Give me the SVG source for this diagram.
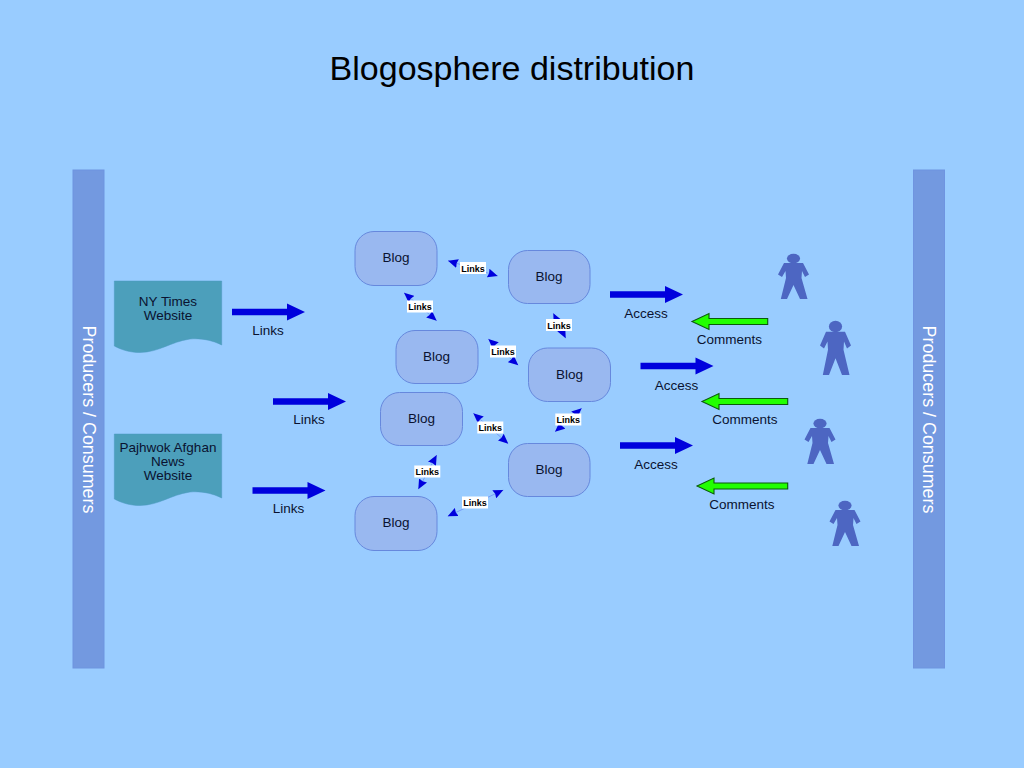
<svg xmlns="http://www.w3.org/2000/svg" xmlns:xlink="http://www.w3.org/1999/xlink" width="1024" height="768" viewBox="0 0 1024 768">
<style>
text{font-family:"Liberation Sans",Arial,sans-serif;text-anchor:middle;fill:#0a1230}
.t{font-size:13.5px}
.title{font-size:34px;fill:#000}
.side{font-size:17.900px;fill:#fff}
.bar{fill:#7399e0;stroke:#6f94e0;stroke-width:1}
.blog rect{fill:#99b8f0;stroke:#6688dd;stroke-width:1}
.doc path{fill:#4c9fbb;stroke:#4a98c0;stroke-width:.5}
.person{fill:#4d66c2}
.big{fill:#0000dd}
.green{fill:#22ff00;stroke:#0b5a0b;stroke-width:1.1}
.ln{stroke:#0000dd;stroke-width:.6;stroke-opacity:.4;fill:none;marker-start:url(#h);marker-end:url(#h)}
.lb rect{fill:#fff}
.lb text{font-size:9px;font-weight:bold;fill:#000}
</style>
<defs>
<marker id="h" viewBox="0 0 10 9" refX="10" refY="4.500" markerUnits="userSpaceOnUse" markerWidth="10" markerHeight="9" orient="auto-start-reverse"><path d="M0,0L10,4.500L0,9L1,4.500Z" fill="#0000dd"/></marker>
<path id="arrow" d="M0,-3.200H55V-8.500L73,0L55,8.500V3.200H0Z"/>
<g id="man"><ellipse cx="15.500" cy="4.600" rx="6.600" ry="4.800"/><path d="M6,9H25L31,20.500L27,23L24,17L23.500,24L29.500,45H22L15.500,31L9,45H2.800L8,24L7.500,17L4,23L0,20.500Z"/></g>
</defs>
<rect width="1024" height="768" fill="#99ccff"/>
<text class="title" x="512" y="79.500">Blogosphere distribution</text>
<g id="bar-left"><rect class="bar" x="73" y="170" width="31" height="498"/><text class="side" transform="translate(83,419.500) rotate(90)">Producers / Consumers</text></g>
<g id="bar-right"><rect class="bar" x="913.500" y="170" width="31" height="498"/><text class="side" transform="translate(923,419.500) rotate(90)">Producers / Consumers</text></g>
<g id="doc-nyt" class="doc"><path d="M114.300,281H221.700V345C212,340 200,338 190,339C170,342 160,352 140,352.500C130,352.500 122,350 114.300,346Z"/><text class="t" x="168" y="306">NY Times</text><text class="t" x="168" y="320">Website</text></g>
<g id="doc-pajhwok" class="doc"><path d="M114.300,434H221.700V498C212,493 200,491 190,492C170,495 160,505 140,505.500C130,505.500 122,503 114.300,499Z"/><text class="t" x="168" y="452">Pajhwok Afghan</text><text class="t" x="168" y="466">News</text><text class="t" x="168" y="480">Website</text></g>
<g id="blog1" class="blog"><rect x="355" y="231.500" width="82" height="54" rx="19"/><text class="t" x="396" y="262">Blog</text></g>
<g id="blog2" class="blog"><rect x="508.500" y="250.500" width="81.500" height="53" rx="19"/><text class="t" x="549" y="280.500">Blog</text></g>
<g id="blog3" class="blog"><rect x="396" y="330.500" width="82" height="53" rx="19"/><text class="t" x="436.500" y="360.500">Blog</text></g>
<g id="blog4" class="blog"><rect x="528.500" y="348" width="82" height="53.500" rx="19"/><text class="t" x="569.500" y="378.500">Blog</text></g>
<g id="blog5" class="blog"><rect x="380.500" y="392.500" width="82" height="53" rx="19"/><text class="t" x="421.500" y="423">Blog</text></g>
<g id="blog6" class="blog"><rect x="508.500" y="443.500" width="81.500" height="53" rx="19"/><text class="t" x="549" y="474">Blog</text></g>
<g id="blog7" class="blog"><rect x="355" y="496.500" width="82" height="54" rx="19"/><text class="t" x="396" y="527">Blog</text></g>
<g id="connectors">
<use href="#arrow" class="big" x="232" y="312"/>
<use href="#arrow" class="big" x="273" y="401.500"/>
<use href="#arrow" class="big" x="252.500" y="490.500"/>
<use href="#arrow" class="big" x="610" y="294.500"/>
<use href="#arrow" class="big" x="640.500" y="366"/>
<use href="#arrow" class="big" x="620" y="445.500"/>
<path class="green" d="M767.700,318.500H709V313.500L692,321.500L709,329.500V324.500H767.700Z"/>
<path class="green" d="M787.700,398.500H719V393.500L702,401.500L719,409.500V404.500H787.700Z"/>
<path class="green" d="M787.700,483H714V478L697,486L714,494V489H787.700Z"/>
<line class="ln" x1="448" y1="260.700" x2="497.700" y2="276"/>
<line class="ln" x1="404" y1="292.700" x2="436.700" y2="320.700"/>
<line class="ln" x1="553.300" y1="313.300" x2="565.700" y2="338.300"/>
<line class="ln" x1="488.300" y1="339" x2="518.300" y2="365.300"/>
<line class="ln" x1="581.700" y1="408.300" x2="555" y2="431.700"/>
<line class="ln" x1="473.300" y1="413.300" x2="508.300" y2="443.700"/>
<line class="ln" x1="436.700" y1="455" x2="418.300" y2="489.300"/>
<line class="ln" x1="503.300" y1="490" x2="447.700" y2="516.300"/>
</g>
<g id="link-labels" class="lb">
<g><rect x="460" y="262" width="26" height="12"/><text x="473" y="271.500">Links</text></g>
<g><rect x="407" y="300.500" width="26" height="12"/><text x="420" y="310">Links</text></g>
<g><rect x="546" y="319" width="26" height="12"/><text x="559" y="328.500">Links</text></g>
<g><rect x="490" y="345.500" width="26" height="12"/><text x="503" y="355">Links</text></g>
<g><rect x="555.300" y="413.500" width="26" height="12"/><text x="568.300" y="423">Links</text></g>
<g><rect x="477.300" y="421.500" width="26" height="12"/><text x="490.300" y="431">Links</text></g>
<g><rect x="414.300" y="465.500" width="26" height="12"/><text x="427.300" y="475">Links</text></g>
<g><rect x="462" y="496.500" width="26" height="12"/><text x="475" y="506">Links</text></g>
</g>
<g id="labels">
<text class="t" x="268" y="335">Links</text>
<text class="t" x="309" y="424">Links</text>
<text class="t" x="288.500" y="513">Links</text>
<text class="t" x="646" y="318">Access</text>
<text class="t" x="676.500" y="389.500">Access</text>
<text class="t" x="656" y="468.500">Access</text>
<text class="t" x="729.500" y="344">Comments</text>
<text class="t" x="745" y="424">Comments</text>
<text class="t" x="742" y="508.500">Comments</text>
</g>
<g id="person1" class="person"><use href="#man" x="778" y="254"/></g>
<g id="person2" class="person"><use href="#man" transform="translate(820,321) scale(1,1.2)"/></g>
<g id="person3" class="person"><use href="#man" x="804.500" y="419"/></g>
<g id="person4" class="person"><use href="#man" x="829.500" y="501"/></g>
</svg>
